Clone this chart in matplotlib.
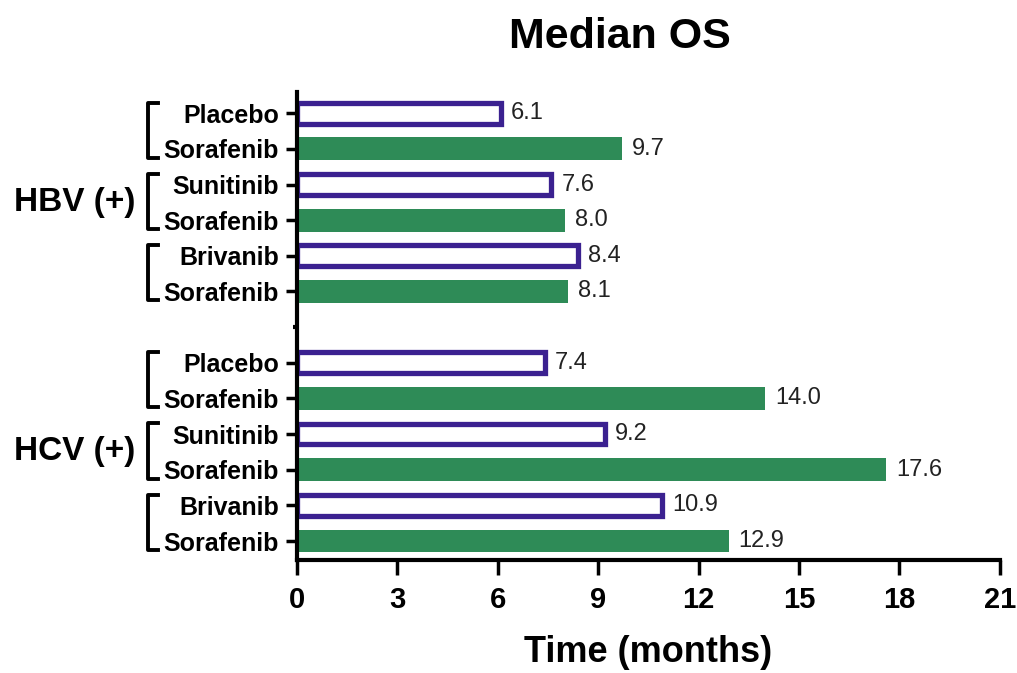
import matplotlib.pyplot as plt
import matplotlib.transforms as mtransforms

plt.rcParams['font.family'] = ['Liberation Sans', 'DejaVu Sans']

drugs = ["Placebo", "Sorafenib", "Sunitinib", "Sorafenib", "Brivanib", "Sorafenib"]
hbv_os = [6.1, 9.7, 7.6, 8.0, 8.4, 8.1]
hcv_os = [7.4, 14.0, 9.2, 17.6, 10.9, 12.9]
groups = ["HBV (+)", "HCV (+)"]
x_ticks = [0, 3, 6, 9, 12, 15, 18, 21]

PURPLE = "#3b2190"
GREEN = "#2e8b57"


def main():
    fig = plt.figure(figsize=(10.17, 6.73), dpi=100)
    ax = fig.add_axes([0.292, 0.168, 0.691, 0.695])

    labels = drugs + drugs
    values = hbv_os + hcv_os
    pos = list(range(6)) + list(range(7, 13))

    for i, (p, v) in enumerate(zip(pos, values)):
        if i % 2 == 0:
            ax.barh(p, v, height=0.58, color="white", edgecolor=PURPLE,
                    linewidth=3.8)
        else:
            ax.barh(p, v, height=0.64, color=GREEN, edgecolor="none")
        ax.text(v + 0.3, p, f"{v:.1f}", va="center", ha="left",
                fontsize=17, color="#222222")

    ax.set_ylim(12.53, -0.59)
    ax.set_xlim(0, 21)
    ax.set_yticks(pos)
    ax.set_yticklabels(labels, fontsize=18, fontweight="bold")
    ax.set_yticks([6], minor=True)
    ax.set_xticks(x_ticks)
    ax.set_xticklabels([str(t) for t in x_ticks], fontsize=21,
                       fontweight="bold")
    ax.set_xlabel("Time (months)", fontsize=26, fontweight="bold",
                  labelpad=15)
    ax.set_title("Median OS", fontsize=31, fontweight="bold", pad=32,
                 x=0.46)

    for side in ["top", "right"]:
        ax.spines[side].set_visible(False)
    for side in ["left", "bottom"]:
        ax.spines[side].set_linewidth(3)
    ax.tick_params(axis="y", length=8, width=2.5, pad=5)
    ax.tick_params(axis="y", which="minor", length=3, width=3)
    ax.tick_params(axis="x", length=11, width=2.5, pad=8)

    # brackets around each pair
    trans = mtransforms.blended_transform_factory(ax.transAxes, ax.transData)
    for start in [0, 2, 4, 7, 9, 11]:
        y0, y1 = start - 0.3, start + 1.25
        ax.plot([-0.198, -0.212, -0.212, -0.198], [y0, y0, y1, y1],
                color="black", lw=2.8, transform=trans, clip_on=False)

    for g, yc in zip(groups, [2.5, 9.5]):
        ax.text(-0.230, yc, g, transform=trans, ha="right", va="center",
                fontsize=24, fontweight="bold")

    fig.savefig("out.png", dpi=100)


if __name__ == "__main__":
    main()
